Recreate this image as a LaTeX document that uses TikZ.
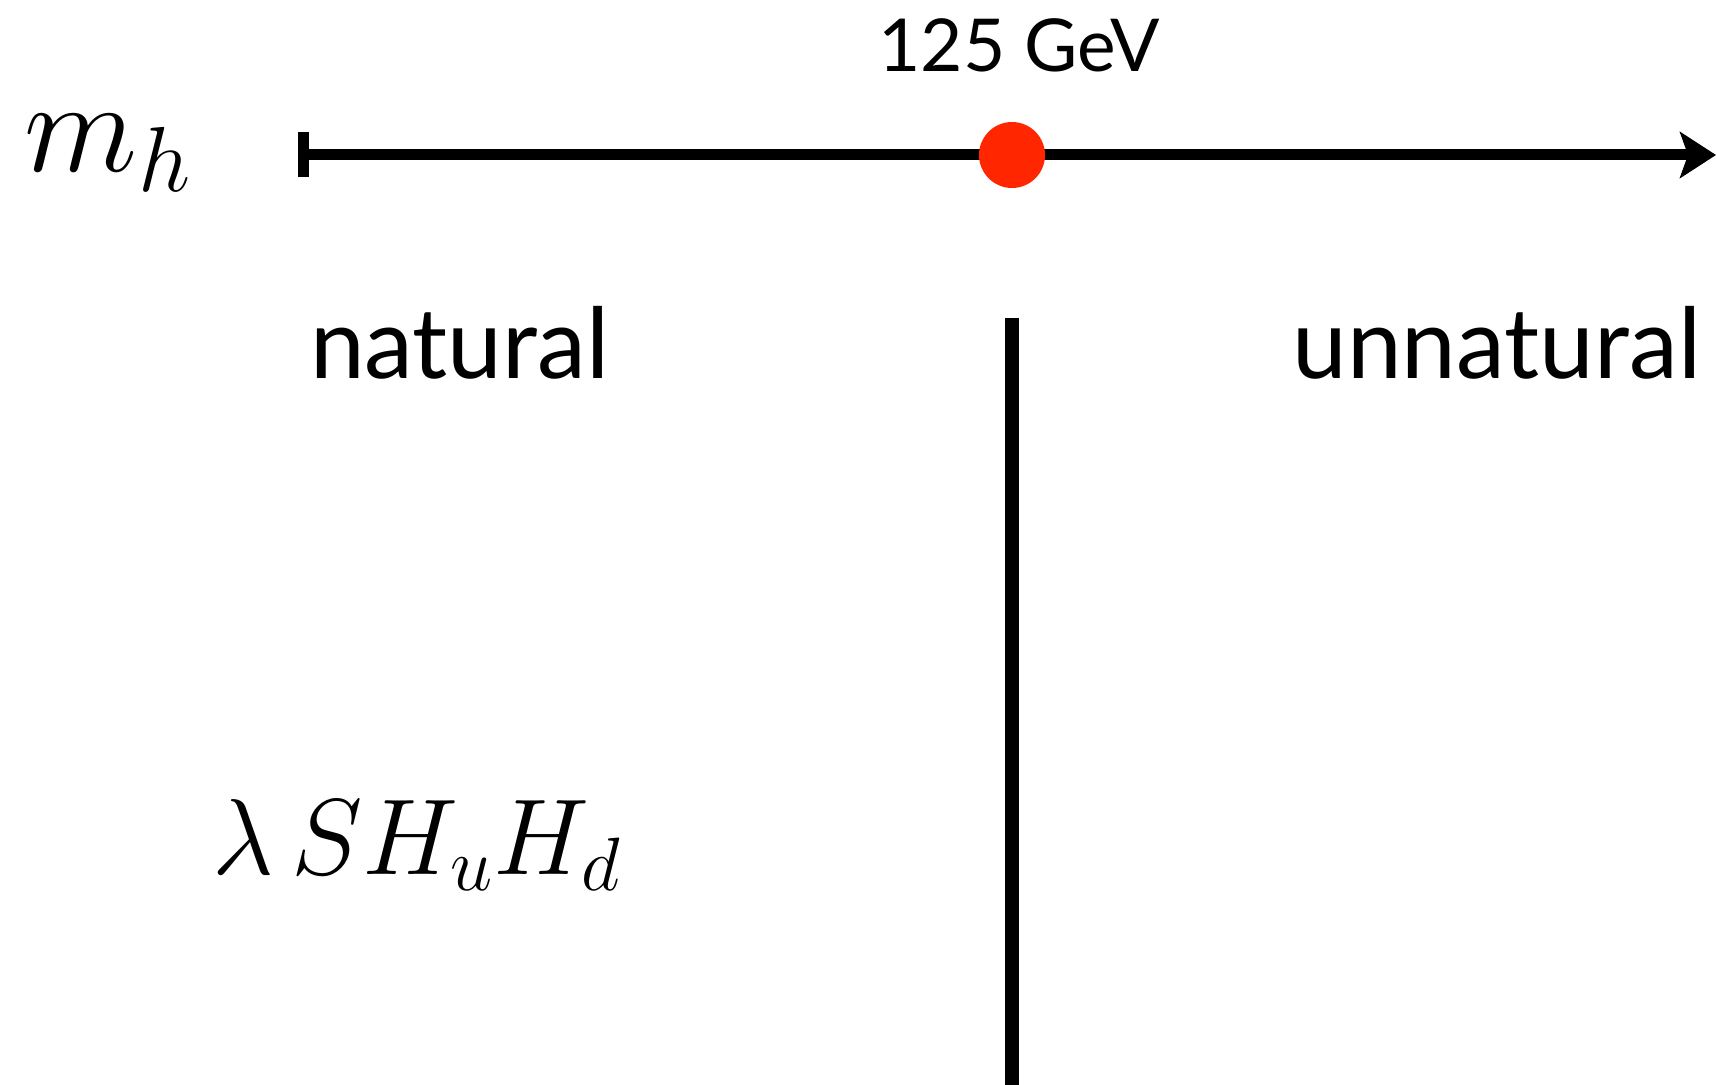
\RequirePackage{fix-cm}
\documentclass[tikz,border=0pt]{standalone}
\usepackage{fontspec}
\setmainfont{Lato}
\usetikzlibrary{arrows.meta}
\definecolor{dotred}{RGB}{255,38,0}
\begin{document}
\begin{tikzpicture}[x=0.5pt,y=-0.5pt,
  axis/.style={line width=5.5pt,
    {Bar[width=22.5pt]}-{Stealth[length=18pt,width=23pt,inset=4pt]}},
  divider/.style={line width=7pt},
  label/.style={inner sep=0pt,outer sep=0pt},
  dotmark/.style={circle,fill=dotred,minimum size=33pt,inner sep=0pt}]
\useasboundingbox (0,0) rectangle (1717,1085);
% mass axis with the measured value
\coordinate (axisstart) at (298,155);
\coordinate (axisend) at (1716,155);
\draw[axis] (axisstart) -- (axisend);
\node[dotmark] (higgs) at (1012,155) {};
\node[label,anchor=base] (mass) at (1019,72) {\fontsize{36.5}{36.5}\selectfont 125 GeV};
\node[label,anchor=base west] (mh) at (25,172) {\fontsize{66}{66}\selectfont $m_h$};
% dividing line between the two regimes
\coordinate (divtop) at (1012,318);
\coordinate (divbot) at (1012,1085);
\draw[divider] (divtop) -- (divbot);
\node[label,anchor=base west] (nat) at (310,379) {\fontsize{49}{49}\selectfont natural};
\node[label,anchor=base east] (unnat) at (1701,379) {\fontsize{49}{49}\selectfont unnatural};
\node[label,anchor=base west] (coupling) at (212,874) {\fontsize{54}{54}\selectfont $\lambda\, S H_u H_d$};
\end{tikzpicture}
\end{document}
